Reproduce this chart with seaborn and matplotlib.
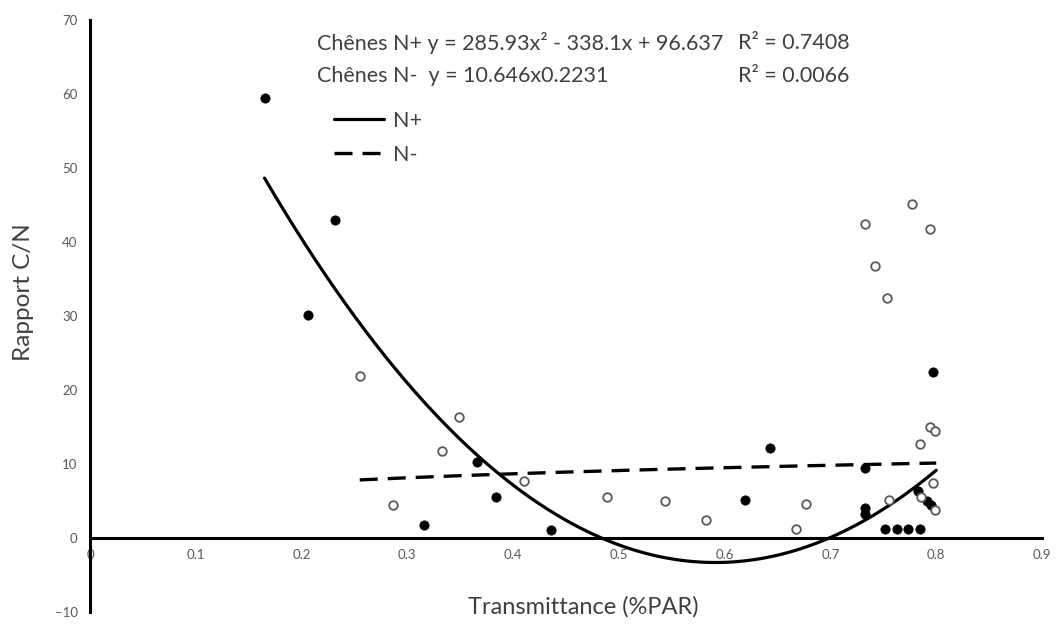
import numpy as np
import pandas as pd
import matplotlib.pyplot as plt
import seaborn as sns

# points
np_x = [0.165, 0.206, 0.232, 0.316, 0.366, 0.384, 0.436, 0.619, 0.643, 0.733,
        0.733, 0.733, 0.752, 0.763, 0.773, 0.785, 0.783, 0.791, 0.795, 0.797]
np_y = [59.5, 30.1, 43.0, 1.8, 10.3, 5.6, 1.1, 5.2, 12.2, 9.5,
        4.1, 3.3, 1.2, 1.2, 1.2, 1.2, 6.4, 5.0, 4.5, 22.4]
nm_x = [0.255, 0.286, 0.333, 0.349, 0.410, 0.489, 0.544, 0.582, 0.667, 0.677, 0.733,
        0.742, 0.753, 0.755, 0.777, 0.785, 0.786, 0.794, 0.794, 0.799, 0.797, 0.799]
nm_y = [21.9, 4.4, 11.7, 16.4, 7.7, 5.5, 5.0, 2.5, 1.2, 4.6, 42.4,
        36.7, 32.4, 5.2, 45.1, 12.7, 5.6, 41.8, 15.0, 14.5, 7.4, 3.8]

# trendline coefficients shown on the chart
poly_coef = [285.93, -338.1, 96.637]   # N+ : y = a x^2 + b x + c
pow_coef = [10.646, 0.2231]            # N- : y = a x^b
np_range = [0.165, 0.80]
nm_range = [0.255, 0.80]

xticks = [0, 0.1, 0.2, 0.3, 0.4, 0.5, 0.6, 0.7, 0.8, 0.9]
xtick_labels = ["0", "0.1", "0.2", "0.3", "0.4", "0.5", "0.6", "0.7", "0.8", "0.9"]
yticks = [-10, 0, 10, 20, 30, 40, 50, 60, 70]

sns.set_style("white")
plt.rcParams['font.family'] = ['Lato', 'DejaVu Sans']

fig = plt.figure(figsize=(10.56, 6.3), dpi=100)
ax = fig.add_axes([90/1056, 1 - 612/630, (1042-90)/1056, (612-20)/630])

grey = "#595959"
txt = "#404040"

xp = np.linspace(np_range[0], np_range[1], 200)
xm = np.linspace(nm_range[0], nm_range[1], 200)
fit = pd.DataFrame({
    "x": np.concatenate([xp, xm]),
    "y": np.concatenate([np.polyval(poly_coef, xp), pow_coef[0] * xm ** pow_coef[1]]),
    "serie": ["N+"] * len(xp) + ["N-"] * len(xm),
})

sns.lineplot(data=fit[fit.serie == "N+"], x="x", y="y", color="black", lw=2.3,
             ax=ax, label="N+", sort=False)
sns.lineplot(data=fit[fit.serie == "N-"], x="x", y="y", color="black", lw=2.4,
             ax=ax, label="N-", sort=False)
ax.lines[1].set_dashes((5.4, 3.0))

sns.scatterplot(x=np_x, y=np_y, color="black", s=45, edgecolor="black",
                linewidth=0.5, ax=ax, zorder=4)
sns.scatterplot(x=nm_x, y=nm_y, facecolor="white", s=38, edgecolor=grey,
                linewidth=1.3, ax=ax, zorder=4)

ax.set_xlim(0, 0.9)
ax.set_ylim(-10, 70)
ax.set_xticks(xticks)
ax.set_xticklabels(xtick_labels)
ax.set_yticks(yticks)

for s in ["top", "right"]:
    ax.spines[s].set_visible(False)
ax.spines["bottom"].set_position(("data", 0))
for s in ["bottom", "left"]:
    ax.spines[s].set_linewidth(2.2)
    ax.spines[s].set_color("black")
ax.tick_params(axis="both", direction="out", length=3, width=2, color="black",
               labelsize=9.5, labelcolor=grey)
ax.tick_params(axis="x", pad=5)
ax.tick_params(axis="y", pad=6)

ax.set_xlabel("")
ax.set_ylabel("")
fig.text(583/1056, 1 - 607/630, "Transmittance (%PAR)", ha="center", va="center",
         fontsize=17, color=txt)
fig.text(24/1056, 1 - 292/630, "Rapport C/N", ha="center", va="center",
         rotation=90, fontsize=17.5, color=txt)

fs = 15.5
ax.text(0.215, 66.9, "Chênes N+ y = 285.93x² - 338.1x + 96.637", fontsize=fs,
        color=txt, va="center")
ax.text(0.613, 66.9, "R² = 0.7408", fontsize=fs, color=txt, va="center")
ax.text(0.215, 62.5, "Chênes N-  y = 10.646x0.2231", fontsize=fs, color=txt, va="center")
ax.text(0.613, 62.5, "R² = 0.0066", fontsize=fs, color=txt, va="center")

leg = ax.legend(loc="upper left", bbox_to_anchor=(334/1056, 1 - 111/630),
                bbox_transform=fig.transFigure, frameon=False, fontsize=fs,
                handlelength=2.3, handletextpad=0.45, labelspacing=0.65,
                borderpad=0, borderaxespad=0)
for t in leg.get_texts():
    t.set_color(txt)

fig.savefig("out.png", dpi=100)
